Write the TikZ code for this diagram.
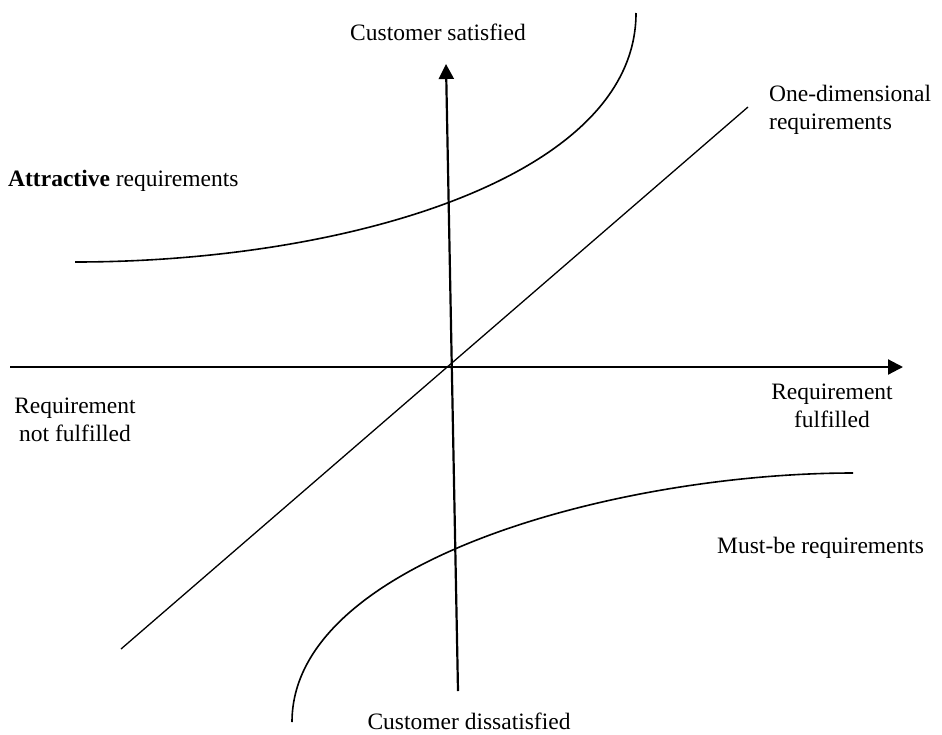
\documentclass[tikz,border=0pt]{standalone}
\usepackage{fontspec}
\setmainfont{Liberation Serif}
\usetikzlibrary{arrows.meta}
\tikzset{
  axis/.style={line width=2.2pt,-{Triangle[length=15pt,width=15pt]}},
  curve/.style={line width=1.6pt},
  thinline/.style={line width=1.3pt},
  lbl/.style={inner sep=0pt,font=\fontsize{23.5}{27.5}\selectfont,text=black}
}
\begin{document}
\begin{tikzpicture}[x=1pt,y=-1pt]
\useasboundingbox (0,0) rectangle (942,734);
% axes
\coordinate (xs) at (10,367);
\coordinate (xe) at (903,367);
\coordinate (ys) at (458,691);
\coordinate (ye) at (446,64);
\draw[axis] (xs) -- (xe);
\draw[axis] (ys) -- (ye);
% one-dimensional line
\coordinate (ds) at (121,649);
\coordinate (de) at (748,107);
\draw[thinline] (ds) -- (de);
% attractive curve
\coordinate (as) at (75,262);
\coordinate (ae) at (636,13);
\draw[curve] (as) .. controls (345,262) and (636,178) .. (ae);
% must-be curve
\coordinate (ms) at (853,473);
\coordinate (me) at (292,722);
\draw[curve] (ms) .. controls (620,473) and (292,560) .. (me);
% labels
\node[lbl,anchor=base] (sat) at (438,40) {Customer satisfied};
\node[lbl,anchor=base] (dis) at (469,729) {Customer dissatisfied};
\node[lbl,anchor=base west] (attr) at (8,186) {\textbf{Attractive} requirements};
\node[lbl,anchor=base west] (must) at (717,553) {Must-be requirements};
\node[lbl,anchor=west,align=left] (one) at (769,110) {One-dimensional\\requirements};
\node[lbl,anchor=center,align=center] (rnf) at (75,420) {Requirement\\not fulfilled};
\node[lbl,anchor=center,align=center] (rf) at (832,406) {Requirement\\fulfilled};
\end{tikzpicture}
\end{document}
